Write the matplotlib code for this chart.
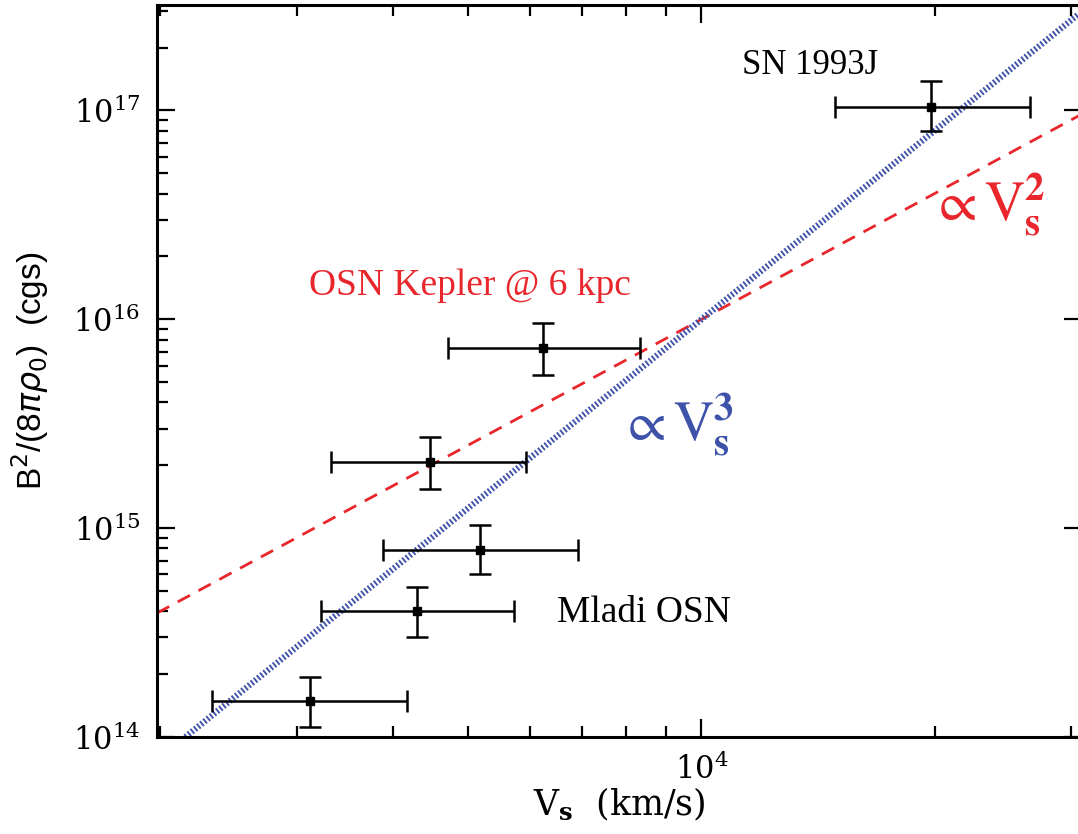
import numpy as np
import matplotlib
matplotlib.use("Agg")
import matplotlib.pyplot as plt
from matplotlib.ticker import LogLocator, NullFormatter

# ------------------------------------------------------------
# Data
# ------------------------------------------------------------
vs = [3125, 4297, 5178, 4457, 6250, 19820]
vs_lo = [2335, 3228, 3881, 3325, 4710, 14890]
vs_hi = [4170, 5730, 6918, 5941, 8338, 26560]

b2 = [1.49e14, 4.0e14, 7.9e14, 2.07e15, 7.26e15, 1.045e17]
b2_lo = [1.12e14, 3.0e14, 6.0e14, 1.54e15, 5.4e15, 7.94e16]
b2_hi = [1.94e14, 5.2e14, 1.04e15, 2.72e15, 9.57e15, 1.39e17]

# power laws normalised at V = 1e4 km/s
norm_v = 1.0e4
norm_b = 1.0e16

xlim = (1980, 31000)
ylim = (1.0e14, 3.2e17)

red = "#e8262c"
blue = "#3d52a8"

fig = plt.figure(figsize=(10.78, 8.34), dpi=100)
# right spine sits just outside the picture, as in the reference
ax = fig.add_axes([0.1456, 0.1163, 0.858, 0.8777])

ax.set_xscale("log")
ax.set_yscale("log")

v_line = np.logspace(np.log10(xlim[0]), np.log10(xlim[1]), 200)
ax.plot(v_line, norm_b * (v_line / norm_v) ** 2, color=red, lw=2.0,
        ls=(0, (5, 3.5)), zorder=2)
ax.plot(v_line, norm_b * (v_line / norm_v) ** 3, color=blue, lw=4.5,
        ls=(0, (0.3, 0.35)), zorder=2)

vs_a = np.array(vs)
b2_a = np.array(b2)
xerr = [vs_a - np.array(vs_lo), np.array(vs_hi) - vs_a]
yerr = [b2_a - np.array(b2_lo), np.array(b2_hi) - b2_a]
ax.errorbar(vs_a, b2_a, xerr=xerr, yerr=yerr, fmt="s", color="black",
            ms=6, elinewidth=1.8, capsize=8, capthick=1.8, zorder=3)

ax.set_xlim(*xlim)
ax.set_ylim(*ylim)

for side in ax.spines.values():
    side.set_linewidth(2.2)

# ticks: minor on left, bottom and top; right side majors only
ax.tick_params(which="both", direction="in", top=True, right=True,
               width=1.6)
ax.tick_params(which="major", length=13, labelsize=22, pad=12)
ax.tick_params(which="minor", length=8)
ax.tick_params(axis="y", which="minor", right=False)
ax.xaxis.set_minor_locator(LogLocator(base=10, subs=np.arange(2, 10)))
ax.xaxis.set_minor_formatter(NullFormatter())
ax.yaxis.set_minor_locator(LogLocator(base=10, subs=np.arange(2, 10)))
ax.yaxis.set_minor_formatter(NullFormatter())

for lab in ax.get_xticklabels() + ax.get_yticklabels():
    lab.set_family("DejaVu Serif")

ax.set_xlabel(r"V$_{\mathbf{s}}$  (km/s)", fontsize=25,
              family="DejaVu Serif", labelpad=0,
              math_fontfamily="dejavuserif")
ax.set_ylabel(r"B$^2$/(8$\pi\rho_0$)  (cgs)", fontsize=24,
              family="Liberation Sans", labelpad=16)

serif = "Liberation Serif"
ax.text(0.632, 0.906, "SN 1993J", transform=ax.transAxes, fontsize=25,
        family=serif, color="black", va="baseline")
ax.text(0.164, 0.604, "OSN Kepler @ 6 kpc", transform=ax.transAxes,
        fontsize=27, family=serif, color=red, va="baseline")
ax.text(0.432, 0.157, "Mladi OSN", transform=ax.transAxes, fontsize=27,
        family=serif, color="black", va="baseline")
ax.text(0.500, 0.405, r"$\propto \mathrm{V}_{\mathbf{s}}^{\mathbf{3}}$",
        transform=ax.transAxes, fontsize=40, color=blue,
        math_fontfamily="stix")
ax.text(0.836, 0.706, r"$\propto \mathrm{V}_{\mathbf{s}}^{\mathbf{2}}$",
        transform=ax.transAxes, fontsize=40, color=red,
        math_fontfamily="stix")

fig.savefig("out.png", dpi=100)
